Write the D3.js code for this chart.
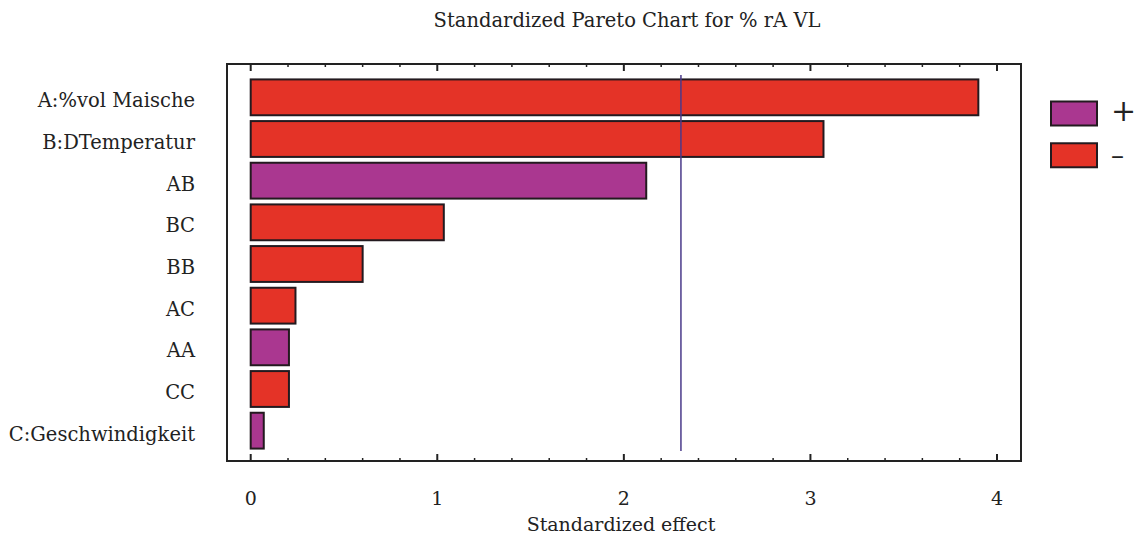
<!DOCTYPE html>
<html><head><meta charset="utf-8">
<script src="https://cdn.jsdelivr.net/npm/d3@7"></script>
<style>body{margin:0;background:#fff}svg{display:block}text{font-family:"DejaVu Serif",serif;fill:#222}</style>
</head><body>
<svg id="c" width="1139" height="541"></svg>
<script>
const categories = ["A:%vol Maische","B:DTemperatur","AB","BC","BB","AC","AA","CC","C:Geschwindigkeit"];
const effects = [3.90, 3.07, 2.12, 1.035, 0.60, 0.24, 0.205, 0.205, 0.07];
const signs = ["-","-","+","-","-","-","+","-","+"];
const xTicks = [0,1,2,3,4];
const threshold = 2.306;
const legendItems = ["+","-"];
const colors = {"+":"#AA3790","-":"#E43327"};

const svg = d3.select("#c");
const box = {l:227, r:1021, t:64, b:461};
const x = d3.scaleLinear().domain([0,4]).range([250.7,997]);
const y = d3.scaleBand().domain(categories).range([76.5,451.5]).paddingInner(0.14).paddingOuter(0.07);

svg.append("text").attr("x",627).attr("y",27).attr("text-anchor","middle").attr("font-size",19.5).text("Standardized Pareto Chart for % rA VL");

// bars
svg.selectAll("rect.bar").data(categories).enter().append("rect")
  .attr("x",x(0)).attr("y",d=>y(d))
  .attr("width",(d,i)=>x(effects[i])-x(0)).attr("height",y.bandwidth())
  .attr("fill",(d,i)=>colors[signs[i]]).attr("stroke","#231a1f").attr("stroke-width",2);

// frame
svg.append("rect").attr("x",box.l).attr("y",box.t).attr("width",box.r-box.l).attr("height",box.b-box.t)
  .attr("fill","none").attr("stroke","#222").attr("stroke-width",2);

// ticks
const minor = d3.range(0,4.001,0.2).filter(v=>Math.abs(v-Math.round(v))>1e-6);
[box.b, box.t].forEach((yy,k)=>{
  const dir = k===0?-1:1;
  svg.selectAll(null).data(xTicks).enter().append("line")
    .attr("x1",d=>x(d)).attr("x2",d=>x(d)).attr("y1",yy).attr("y2",yy+dir*7)
    .attr("stroke","#222").attr("stroke-width",2);
  svg.selectAll(null).data(minor).enter().append("line")
    .attr("x1",d=>x(d)).attr("x2",d=>x(d)).attr("y1",yy).attr("y2",yy+dir*3)
    .attr("stroke","#222").attr("stroke-width",1.5);
});
svg.selectAll(null).data(xTicks).enter().append("text")
  .attr("x",d=>x(d)).attr("y",505).attr("text-anchor","middle").attr("font-size",19).text(d=>d);
svg.append("text").attr("x",621).attr("y",531).attr("text-anchor","middle").attr("font-size",19).text("Standardized effect");

// y labels
svg.selectAll(null).data(categories).enter().append("text")
  .attr("x",195).attr("y",d=>y(d)+y.bandwidth()/2+10).attr("text-anchor","end").attr("font-size",19.5).text(d=>d);

// threshold
svg.append("line").attr("x1",x(threshold)).attr("x2",x(threshold)).attr("y1",75).attr("y2",451)
  .attr("stroke","#4a3a8a").attr("stroke-width",1.5);

// legend
const ly = d3.scaleBand().domain(legendItems).range([100,166]).paddingInner(0.42);
legendItems.forEach(k=>{
  svg.append("rect").attr("x",1051).attr("y",ly(k)+1.5).attr("width",46).attr("height",24)
    .attr("fill",colors[k]).attr("stroke","#231a1f").attr("stroke-width",2);
  svg.append("text").attr("x",1111).attr("y",ly(k)+(k==="+"?21:22)).attr("font-size",k==="+"?30:26).attr("font-family","DejaVu Sans").attr("font-weight",300).text(k==="+"?"+":"–");
});
</script>
</body></html>
